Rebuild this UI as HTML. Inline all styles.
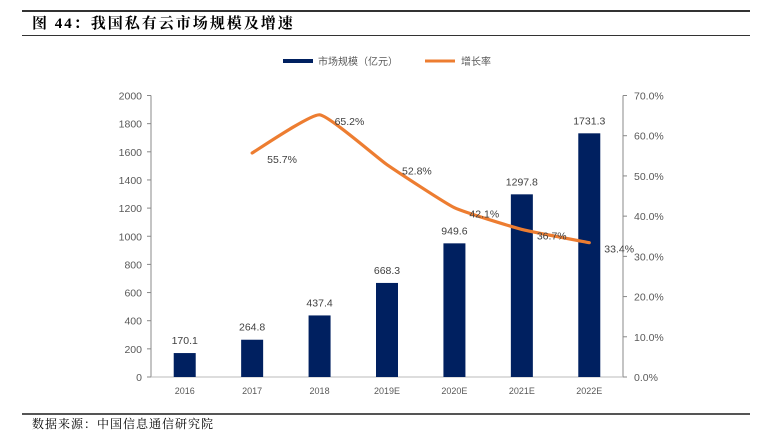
<!DOCTYPE html>
<html><head><meta charset="utf-8"><style>
body{margin:0;background:#fff;width:759px;height:437px;overflow:hidden;position:relative;font-family:"Liberation Sans","Noto Sans CJK SC",sans-serif}
.t{position:absolute;left:32px;top:12px;font:bold 15px "Liberation Serif","Noto Serif CJK SC",serif;color:#000;letter-spacing:2px}
.src{position:absolute;left:32px;top:415px;font:12px "Liberation Serif","Noto Serif CJK SC",serif;color:#000;letter-spacing:1px}
</style></head><body>
<div style="position:absolute;left:22px;top:10px;width:728px;height:2px;background:#333"></div>
<div class="t">图 44：我国私有云市场规模及增速</div>
<div style="position:absolute;left:22px;top:35px;width:728px;height:1px;background:#333"></div>
<svg id="c" width="759" height="437" style="position:absolute;left:0;top:0" xmlns="http://www.w3.org/2000/svg"></svg>
<div style="position:absolute;left:22px;top:413px;width:728px;height:2px;background:#555"></div>
<div class="src">数据来源：中国信息通信研究院</div>
<script>
const categories=["2016","2017","2018","2019E","2020E","2021E","2022E"];
const marketSize=[170.1,264.8,437.4,668.3,949.6,1297.8,1731.3];
const growth=[null,55.7,65.2,52.8,42.1,36.7,33.4];
const leftTicks=[0,200,400,600,800,1000,1200,1400,1600,1800,2000];
const rightTicks=[0,10,20,30,40,50,60,70];
const svg=document.getElementById('c');const NS="http://www.w3.org/2000/svg";
const L=151,R=623,T=95.5,B=377;
const step=(R-L)/categories.length;
const xc=i=>L+step*(i+0.5);
const yl=v=>B-v/2000*(B-T);
const yr=v=>B-v/70*(B-T);
function mk(t,a,txt){const e=document.createElementNS(NS,t);for(const k in a)e.setAttribute(k,a[k]);if(txt!==undefined)e.textContent=txt;svg.appendChild(e);return e;}
let e;
e=mk('line',{x1:L,y1:T,x2:L,y2:B,stroke:'#888'});


e=mk('line',{x1:R,y1:T,x2:R,y2:B,stroke:'#888'});


e=mk('line',{x1:L,y1:B,x2:R,y2:B,stroke:'#bbb'});


leftTicks.forEach(v=>{mk('line',{x1:L-4,y1:yl(v),x2:L,y2:yl(v),stroke:'#888'});
e=mk('text',{x:L-9,y:yl(v)+4,'text-anchor':'end','font-size':'10.5',fill:'#595959'},v);

});
rightTicks.forEach(v=>{mk('line',{x1:R,y1:yr(v),x2:R+4,y2:yr(v),stroke:'#888'});
e=mk('text',{x:R+11,y:yr(v)+4,'font-size':'10.5',fill:'#595959'},v.toFixed(1)+'%');

});
categories.forEach((c,i)=>{
e=mk('text',{x:xc(i),y:B+17,'text-anchor':'middle','font-size':'9',fill:'#595959'},c);


e=mk('rect',{x:xc(i)-11,y:yl(marketSize[i]),width:22,height:B-yl(marketSize[i]),fill:'#002060'});


e=mk('text',{x:xc(i),y:yl(marketSize[i])-9,'text-anchor':'middle','font-size':'10.5',fill:'#404040'},marketSize[i].toFixed(1));


});
const pts=[];growth.forEach((g,i)=>{if(g!==null)pts.push([xc(i),yr(g),g]);});
let d='M'+pts[0][0]+','+pts[0][1];
for(let i=0;i<pts.length-1;i++){const p0=pts[Math.max(0,i-1)],p1=pts[i],p2=pts[i+1],p3=pts[Math.min(pts.length-1,i+2)];const k=0.07;
d+=' C'+(p1[0]+(p2[0]-p0[0])*k)+','+(p1[1]+(p2[1]-p0[1])*k)+' '+(p2[0]-(p3[0]-p1[0])*k)+','+(p2[1]-(p3[1]-p1[1])*k)+' '+p2[0]+','+p2[1];}
e=mk('path',{d:d,fill:'none',stroke:'#ED7D31','stroke-width':3.2,'stroke-linecap':'round'});


pts.forEach(p=>{e=mk('text',{x:p[0]+15,y:p[1]+10,'font-size':'10.5',fill:'#404040'},p[2].toFixed(1)+'%');

});
e=mk('rect',{x:283,y:59,width:30,height:4,fill:'#002060'});


e=mk('text',{x:318,y:65,'font-size':'10',fill:'#595959'},'市场规模（亿元）');


e=mk('line',{x1:425,y1:61,x2:455,y2:61,stroke:'#ED7D31','stroke-width':3});


e=mk('text',{x:461,y:65,'font-size':'10',fill:'#595959'},'增长率');


</script>
</body></html>
